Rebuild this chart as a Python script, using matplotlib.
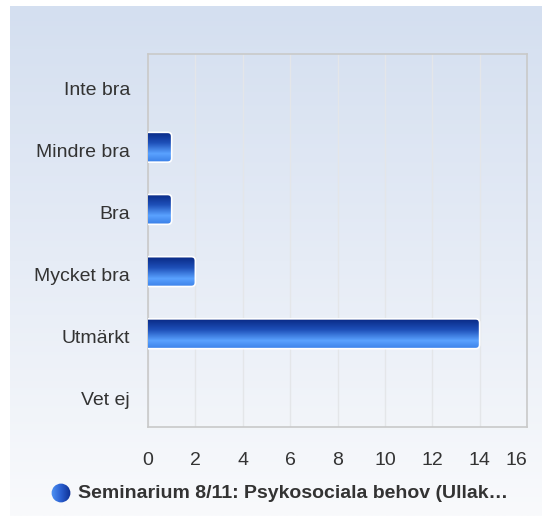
import numpy as np
import matplotlib.pyplot as plt
import matplotlib.transforms as mtransforms
from matplotlib.patches import FancyBboxPatch, Circle
from matplotlib.colors import LinearSegmentedColormap

plt.rcParams['font.family'] = ['Liberation Sans', 'DejaVu Sans']

categories = ["Inte bra", "Mindre bra", "Bra", "Mycket bra", "Utmärkt", "Vet ej"]
values = [0, 1, 1, 2, 14, 0]
xticks = [0, 2, 4, 6, 8, 10, 12, 14, 16]
series_name = "Seminarium 8/11: Psykosociala behov (Ullak\u2026"

W, H = 542, 516
fig = plt.figure(figsize=(W / 100, H / 100), dpi=100)
fig.patch.set_facecolor('white')

# background panel with vertical gradient
bg = fig.add_axes([10 / W, 0, 1 - 10 / W, (H - 6) / H], zorder=-10)
bg_cmap = LinearSegmentedColormap.from_list('bg', ['#d4dff0', '#e6ecf6', '#f9fafc'])
bg.imshow(np.linspace(0, 1, 256).reshape(-1, 1), aspect='auto', cmap=bg_cmap,
          extent=[0, 1, 0, 1], origin='upper')
bg.set_axis_off()

# plot area
left, right, top, bottom = 148, 527, 54, 427
ax = fig.add_axes([left / W, 1 - bottom / H, (right - left) / W, (bottom - top) / H])
ax.set_facecolor('none')

ypos = np.arange(len(categories))
bars = ax.barh(ypos, values, height=0.48, color='none', edgecolor='none', zorder=3)

bar_cmap = LinearSegmentedColormap.from_list(
    'bar', [(0, '#0a2a86'), (0.35, '#1d4fb8'), (0.72, '#5aa2ff'), (1, '#3b80e8')])
px_x = (right - left) / 16
px_y = (bottom - top) / len(categories)
for b in bars:
    x0, y0 = b.get_x(), b.get_y()
    w, h = b.get_width(), b.get_height()
    if w <= 0:
        continue
    r = 4 / px_x
    patch = FancyBboxPatch((x0 - 0.5, y0), w + 0.5, h,
                           boxstyle=f"round,pad=0,rounding_size={r}",
                           mutation_aspect=px_x / px_y,
                           facecolor='none', edgecolor='white', linewidth=1.2,
                           zorder=4, clip_on=True)
    ax.add_patch(patch)
    im = ax.imshow(np.linspace(0, 1, 64).reshape(-1, 1), aspect='auto', cmap=bar_cmap,
                   extent=[x0, x0 + w, y0 + h, y0], origin='upper', zorder=3)
    im.set_clip_path(patch)
ax.set_xlim(0, 16)
ax.set_ylim(len(categories) - 0.5, -0.5)

ax.set_xticks(xticks)
ax.set_xticklabels([str(t) for t in xticks])
labels = ax.get_xticklabels()
labels[-1].set_horizontalalignment('right')
ax.set_yticks(ypos)
ax.set_yticklabels(categories)
ax.tick_params(axis='both', length=0, labelsize=14, labelcolor='#333333')
ax.tick_params(axis='x', pad=18)
ax.tick_params(axis='y', pad=13)
shift = mtransforms.ScaledTranslation(0, -3 / 100, fig.dpi_scale_trans)
for lab in ax.get_yticklabels():
    lab.set_transform(lab.get_transform() + shift)
ax.grid(axis='x', color='#e4e6e9', linewidth=1, zorder=0)
ax.set_axisbelow(True)
for s in ax.spines.values():
    s.set_color('#c9c9c9')
    s.set_linewidth(1.2)

# legend: gradient dot + bold label
cx, cy, rad = 61, 493, 9
lax = fig.add_axes([(cx - rad - 1) / W, 1 - (cy + rad + 1) / H,
                    (2 * rad + 2) / W, (2 * rad + 2) / H])
lax.set_xlim(0, 1)
lax.set_ylim(0, 1)
lax.set_axis_off()
dot_cmap = LinearSegmentedColormap.from_list('dot', ['#4f94f5', '#2a5fd0', '#0d2f92'])
circ = Circle((0.5, 0.5), 0.47, transform=lax.transAxes, facecolor='none', edgecolor='none')
lax.add_patch(circ)
dim = lax.imshow(np.linspace(0, 1, 64).reshape(1, -1), aspect='auto', cmap=dot_cmap,
                 extent=[0, 1, 0, 1])
dim.set_clip_path(circ)

fig.text(78 / W, 1 - cy / H, series_name, fontsize=14, fontweight='bold',
         color='#333333', va='center', ha='left')

fig.savefig('out.png', dpi=100, facecolor=fig.get_facecolor())
